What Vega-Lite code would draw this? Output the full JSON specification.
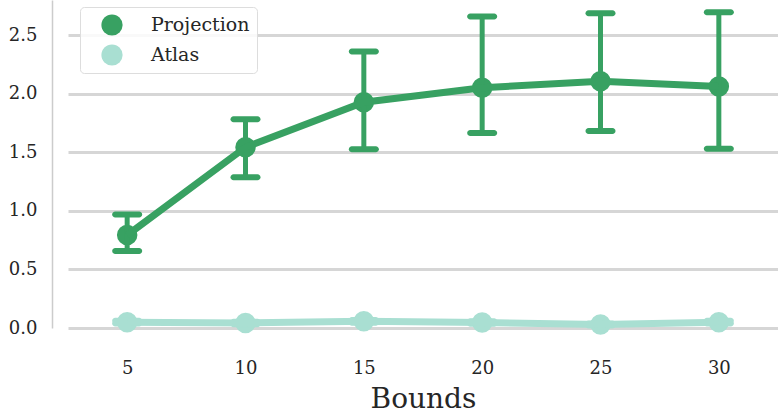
{
  "$schema": "https://vega.github.io/schema/vega-lite/v6.json",
  "width": 710,
  "height": 328,
  "autosize": {"type": "none"},
  "padding": {"left": 68, "top": 0, "right": 0, "bottom": 87},
  "config": {
    "view": {"stroke": null},
    "font": "DejaVu Serif",
    "axis": {"labelColor": "#262626", "titleColor": "#262626", "labelFont": "DejaVu Serif", "titleFont": "DejaVu Serif", "titleFontWeight": "normal"},
    "legend": {"labelFont": "DejaVu Serif"}
  },
  "data": {
    "values": [
      {"bound": 5, "series": "Projection", "mean": 0.793, "lo": 0.657, "hi": 0.969},
      {"bound": 10, "series": "Projection", "mean": 1.543, "lo": 1.287, "hi": 1.782},
      {"bound": 15, "series": "Projection", "mean": 1.927, "lo": 1.526, "hi": 2.361},
      {"bound": 20, "series": "Projection", "mean": 2.051, "lo": 1.664, "hi": 2.659},
      {"bound": 25, "series": "Projection", "mean": 2.107, "lo": 1.681, "hi": 2.687},
      {"bound": 30, "series": "Projection", "mean": 2.062, "lo": 1.531, "hi": 2.696},
      {"bound": 5, "series": "Atlas", "mean": 0.05, "lo": 0.038, "hi": 0.062},
      {"bound": 10, "series": "Atlas", "mean": 0.043, "lo": 0.033, "hi": 0.053},
      {"bound": 15, "series": "Atlas", "mean": 0.057, "lo": 0.045, "hi": 0.069},
      {"bound": 20, "series": "Atlas", "mean": 0.047, "lo": 0.037, "hi": 0.057},
      {"bound": 25, "series": "Atlas", "mean": 0.03, "lo": 0.022, "hi": 0.038},
      {"bound": 30, "series": "Atlas", "mean": 0.05, "lo": 0.038, "hi": 0.062}
    ]
  },
  "encoding": {
    "x": {
      "field": "bound",
      "type": "ordinal",
      "scale": {"type": "point", "padding": 0.5},
      "axis": {
        "title": "Bounds",
        "labelAngle": 0,
        "domain": false,
        "ticks": false,
        "grid": false,
        "labelFontSize": 18,
        "labelPadding": 31,
        "titleFontSize": 28,
        "titlePadding": 8
      }
    },
    "color": {
      "field": "series",
      "type": "nominal",
      "scale": {"domain": ["Projection", "Atlas"], "range": ["#38a162", "#a9dfd2"]},
      "legend": {
        "title": null,
        "orient": "none",
        "legendX": 12,
        "legendY": 7,
        "symbolType": "circle",
        "symbolSize": 450,
        "symbolOffset": 14,
        "symbolStrokeWidth": 0,
        "labelFontSize": 19,
        "labelOffset": 28,
        "labelColor": "#262626",
        "rowPadding": 8,
        "padding": 7,
        "fillColor": "rgba(255,255,255,0.85)",
        "strokeColor": "#dddddd",
        "cornerRadius": 4
      }
    }
  },
  "layer": [
    {
      "mark": {"type": "point", "filled": true, "size": 420, "opacity": 1},
      "encoding": {
        "y": {
          "field": "mean",
          "type": "quantitative",
          "scale": {"domain": [0, 2.8], "nice": false, "zero": false},
          "axis": {
            "title": null,
            "values": [0, 0.5, 1, 1.5, 2, 2.5],
            "format": ".1f",
            "offset": 16,
            "domainColor": "#cccccc",
            "domainWidth": 1.5,
            "ticks": false,
            "labelPadding": 15,
            "labelFontSize": 18,
            "gridColor": "#d6d6d6",
            "gridWidth": 3
          }
        }
      }
    },
    {
      "mark": {"type": "rule", "strokeWidth": 5},
      "encoding": {
        "y": {"field": "lo", "type": "quantitative"},
        "y2": {"field": "hi"}
      }
    },
    {
      "mark": {"type": "tick", "size": 30, "thickness": 6, "cornerRadius": 3, "opacity": 1},
      "encoding": {"y": {"field": "lo", "type": "quantitative"}}
    },
    {
      "mark": {"type": "tick", "size": 30, "thickness": 6, "cornerRadius": 3, "opacity": 1},
      "encoding": {"y": {"field": "hi", "type": "quantitative"}}
    },
    {
      "mark": {"type": "line", "strokeWidth": 7},
      "encoding": {"y": {"field": "mean", "type": "quantitative"}}
    }
  ]
}
